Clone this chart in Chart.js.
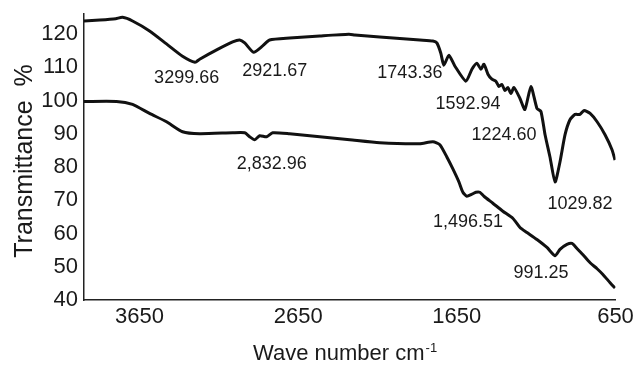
<!DOCTYPE html>
<html>
<head>
<meta charset="utf-8">
<script src="https://cdn.jsdelivr.net/npm/chart.js@4/dist/chart.umd.min.js"></script>
<style>
  html, body { margin: 0; padding: 0; background: #fff; }
  #wrap { width: 639px; height: 367px; }
</style>
</head>
<body>
<div id="wrap"><canvas id="ftir"></canvas></div>
<script>
// wavenumber (cm-1) / transmittance (%)
const topWave = [4000, 3900, 3800, 3757, 3694, 3587, 3480, 3379, 3300, 3271, 3164, 3063, 3019, 2987, 2931, 2874, 2830, 2704, 2514, 2331, 2293, 2136, 1883, 1801, 1776, 1751, 1732, 1700, 1662, 1593, 1555, 1524, 1498, 1479, 1454, 1429, 1404, 1385, 1366, 1347, 1328, 1309, 1290, 1252, 1221, 1183, 1145, 1120, 1094, 1063, 1031, 1000, 968, 937, 905, 874, 848, 810, 766, 716, 672, 653];
const topTrans = [123.9, 124.2, 124.6, 125.0, 123.9, 120.9, 117.0, 113.3, 111.5, 112.4, 115.2, 117.6, 118.2, 117.3, 114.5, 116.4, 118.2, 118.8, 119.4, 119.9, 119.7, 119.1, 118.2, 117.9, 117.3, 114.2, 110.6, 113.6, 110.3, 105.8, 109.4, 111.2, 109.4, 110.9, 107.9, 106.4, 105.8, 104.2, 104.8, 103.0, 103.9, 102.1, 103.9, 100.6, 97.3, 104.2, 97.6, 96.7, 89.7, 83.0, 75.5, 81.5, 89.7, 94.2, 95.8, 95.8, 97.0, 96.1, 93.6, 89.7, 85.2, 82.1];

const bottomWave = [4000, 3795, 3694, 3587, 3480, 3379, 3271, 3063, 2987, 2956, 2924, 2893, 2849, 2811, 2704, 2514, 2325, 2136, 1883, 1801, 1757, 1713, 1675, 1637, 1612, 1587, 1555, 1530, 1505, 1479, 1423, 1360, 1296, 1252, 1208, 1145, 1082, 1031, 1000, 956, 924, 893, 855, 810, 766, 728, 684, 653];
const bottomTrans = [99.7, 99.7, 98.8, 96.1, 93.6, 90.6, 90.0, 90.3, 90.3, 89.1, 88.2, 89.4, 89.1, 90.3, 90.0, 89.1, 88.2, 87.3, 87.0, 87.6, 86.7, 83.0, 79.4, 75.5, 72.4, 71.2, 71.8, 72.4, 72.4, 71.2, 69.1, 66.7, 64.5, 61.8, 60.3, 58.2, 55.8, 53.3, 55.2, 56.7, 57.0, 55.5, 53.6, 51.2, 49.4, 47.6, 45.2, 43.6];

const xTicks = [3650, 2650, 1650, 650];
const yTicks = [40, 50, 60, 70, 80, 90, 100, 110, 120];

// peak labels and where they sit (wavenumber, transmittance)
const peakText  = ['3299.66', '2921.67', '1743.36', '1592.94', '1224.60', '1029.82', '2,832.96', '1,496.51', '991.25'];
const peakWave  = [3353, 2798, 1946, 1580, 1353, 874, 2817, 1580, 1120];
const peakTrans = [106.7, 108.8, 108.2, 98.8, 89.7, 68.8, 80.9, 63.3, 48.2];

const FONT = '"Liberation Sans", Arial, sans-serif';
const INK = '#1a1a1a';

const toPoints = (xs, ys) => xs.map((x, i) => ({ x, y: ys[i] }));

const labelsPlugin = {
  id: 'labels',
  afterDraw(chart) {
    const { ctx, scales: { x, y } } = chart;
    ctx.save();
    ctx.fillStyle = INK;

    ctx.font = '18px ' + FONT;
    ctx.textAlign = 'center';
    ctx.textBaseline = 'middle';
    peakText.forEach((t, i) => {
      ctx.fillText(t, x.getPixelForValue(peakWave[i]), y.getPixelForValue(peakTrans[i]));
    });

    // y title
    ctx.save();
    ctx.font = '25px ' + FONT;
    ctx.textBaseline = 'alphabetic';
    ctx.translate(32, 161);
    ctx.rotate(-Math.PI / 2);
    ctx.fillText('Transmittance  %', 0, 0);
    ctx.restore();

    // x title with superscript
    ctx.textAlign = 'left';
    ctx.textBaseline = 'alphabetic';
    ctx.font = '22px ' + FONT;
    const main = 'Wave number cm';
    ctx.fillText(main, 253, 360);
    const w = ctx.measureText(main).width;
    ctx.font = '13px ' + FONT;
    ctx.fillText('-1', 253 + w + 1, 352);
    ctx.restore();
  }
};

new Chart(document.getElementById('ftir'), {
  type: 'line',
  data: {
    datasets: [
      {
        label: 'top',
        data: toPoints(topWave, topTrans),
        borderColor: '#111',
        borderWidth: 3,
        pointRadius: 0,
        tension: 0.2
      },
      {
        label: 'bottom',
        data: toPoints(bottomWave, bottomTrans),
        borderColor: '#111',
        borderWidth: 3,
        pointRadius: 0,
        tension: 0.2
      }
    ]
  },
  options: {
    responsive: true,
    maintainAspectRatio: false,
    animation: false,
    layout: { padding: { left: 0, right: 23.5, top: 14, bottom: 0 } },
    plugins: { legend: { display: false }, tooltip: { enabled: false } },
    scales: {
      x: {
        type: 'linear',
        reverse: true,
        min: 650,
        max: 4000,
        grid: { display: false, drawTicks: false },
        border: { display: true, color: '#222', width: 1.5 },
        afterBuildTicks: s => { s.ticks = xTicks.map(v => ({ value: v })); },
        afterFit: s => { s.height = 67; s.paddingLeft = 0; s.paddingRight = 0; },
        ticks: {
          padding: 4,
          color: INK,
          font: { family: FONT, size: 22 },
          maxRotation: 0,
          autoSkip: false,
          callback: v => String(v)
        }
      },
      y: {
        min: 40,
        max: 126,
        grid: { display: false, drawTicks: false },
        border: { display: true, color: '#222', width: 1.5 },
        afterBuildTicks: s => { s.ticks = yTicks.map(v => ({ value: v })); },
        afterFit: s => { s.width = 84; s.paddingTop = 0; s.paddingBottom = 0; },
        ticks: {
          padding: 6,
          color: INK,
          font: { family: FONT, size: 22 },
          autoSkip: false,
          callback: v => String(v)
        }
      }
    }
  },
  plugins: [labelsPlugin]
});
</script>
</body>
</html>
